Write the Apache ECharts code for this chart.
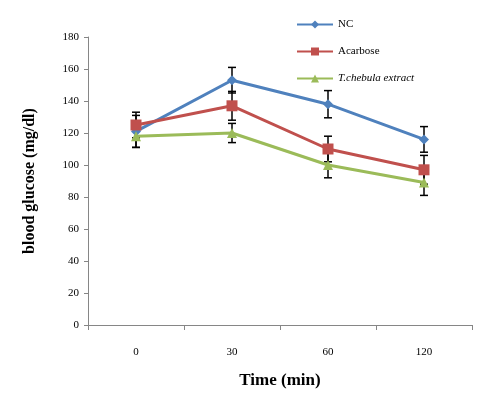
<!DOCTYPE html>
<html><head><meta charset="utf-8">
<script src="https://cdn.jsdelivr.net/npm/echarts@6/dist/echarts.min.js"></script>
<style>html,body{margin:0;padding:0;background:#fff}#c{width:482px;height:394px}</style>
</head><body><div id="c"></div>
<script>
var categories = ['0', '30', '60', '120'];
var ncValues = [121, 153, 138, 116];
var ncErrors = [10, 8, 8.5, 8];
var acarboseValues = [125, 137, 110, 97];
var acarboseErrors = [8, 9, 8, 9];
var tchebulaValues = [118, 120, 100, 89];
var tchebulaErrors = [7, 6, 8, 8];
var yTicks = [0, 20, 40, 60, 80, 100, 120, 140, 160, 180];

var FONT = 'Liberation Serif';
var chart = echarts.init(document.getElementById('c'));

function errSeries(vals, errs) {
  return {
    type: 'custom',
    z: 2,
    silent: true,
    data: vals.map(function (v, i) { return [i, v - errs[i], v + errs[i]]; }),
    renderItem: function (params, api) {
      var lo = api.coord([api.value(0), api.value(1)]);
      var hi = api.coord([api.value(0), api.value(2)]);
      var w = 4;
      var st = { stroke: '#000', lineWidth: 1.5 };
      return { type: 'group', children: [
        { type: 'line', shape: { x1: lo[0], y1: lo[1], x2: hi[0], y2: hi[1] }, style: st },
        { type: 'line', shape: { x1: lo[0] - w, y1: lo[1], x2: lo[0] + w, y2: lo[1] }, style: st },
        { type: 'line', shape: { x1: hi[0] - w, y1: hi[1], x2: hi[0] + w, y2: hi[1] }, style: st }
      ]};
    }
  };
}

function lineSeries(name, vals, color, symbol, size) {
  return {
    name: name, type: 'line', data: vals, symbol: symbol, symbolSize: size,
    z: 3,
    lineStyle: { color: color, width: 3 },
    itemStyle: { color: color },
    emphasis: { disabled: true }
  };
}

chart.setOption({
  animation: false,
  textStyle: { fontFamily: FONT },
  grid: { left: 88, right: 10, top: 37, bottom: 68 },
  legend: {
    orient: 'vertical', left: 291, top: 14, itemWidth: 36, itemHeight: 10, itemGap: 16,
    textStyle: { fontFamily: FONT, fontSize: 11, color: '#000' },
    data: [
      { name: 'NC' },
      { name: 'Acarbose' },
      { name: 'T.chebula extract', textStyle: { fontStyle: 'italic' } }
    ]
  },
  xAxis: {
    type: 'category', data: categories, boundaryGap: true,
    name: 'Time (min)', nameLocation: 'middle', nameGap: 47,
    nameTextStyle: { fontFamily: FONT, fontSize: 17, fontWeight: 'bold', color: '#000' },
    axisLine: { lineStyle: { color: '#868686', width: 1 } },
    axisTick: { show: true, length: 5, lineStyle: { color: '#868686' } },
    axisLabel: { margin: 22, fontFamily: FONT, fontSize: 11, color: '#000' }
  },
  yAxis: {
    type: 'value', min: yTicks[0], max: yTicks[yTicks.length - 1], interval: 20,
    name: 'blood glucose (mg/dl)', nameLocation: 'middle', nameGap: 50,
    nameTextStyle: { fontFamily: FONT, fontSize: 16, fontWeight: 'bold', color: '#000' },
    axisLine: { show: true, lineStyle: { color: '#868686', width: 1 } },
    axisTick: { show: true, length: 4, lineStyle: { color: '#868686' } },
    splitLine: { show: false },
    axisLabel: { margin: 9, fontFamily: FONT, fontSize: 11, color: '#000' }
  },
  series: [
    lineSeries('NC', ncValues, '#4f81bd', 'diamond', 10),
    lineSeries('Acarbose', acarboseValues, '#c0504d', 'rect', 11),
    lineSeries('T.chebula extract', tchebulaValues, '#9bbb59', 'triangle', 10),
    errSeries(ncValues, ncErrors),
    errSeries(acarboseValues, acarboseErrors),
    errSeries(tchebulaValues, tchebulaErrors)
  ]
});
</script></body></html>
